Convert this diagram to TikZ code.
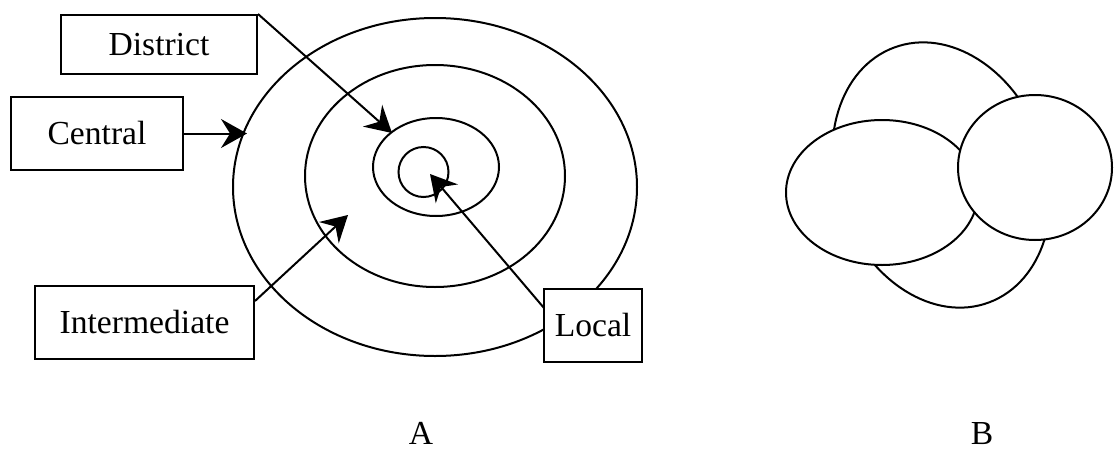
\documentclass[tikz,border=0pt]{standalone}
\usepackage{fontspec}
\setmainfont{Liberation Serif}
\usetikzlibrary{arrows.meta,calc}
\begin{document}
\begin{tikzpicture}[x=0.5pt,y=-0.5pt, line width=1pt,
  lbl/.style={font=\fontsize{16.8pt}{20pt}\selectfont},
  box/.style={draw, fill=white, inner sep=0pt, lbl},
  arr/.style={-{Stealth[length=13pt,width=14.5pt,inset=4.5pt]}}]
\useasboundingbox (0,0) rectangle (1114,450);
% --- A: concentric rings
\draw (435,187) ellipse [x radius=101pt, y radius=84.5pt];
\draw (435,176) ellipse [x radius=65pt, y radius=55.5pt];
\draw (436,167) ellipse [x radius=31.5pt, y radius=24.5pt];
\draw (423.5,172) circle [radius=12.5pt];
% arrow tips
\coordinate (tD) at (392,133);
\coordinate (tC) at (247,133.5);
\coordinate (tI) at (348,215);
\coordinate (tL) at (430,174);
% boxes
\node[box, minimum width=98pt, minimum height=29.5pt] (district) at (159,44.5) {District};
\node[box, minimum width=86pt, minimum height=36.5pt] (central) at (97,133.5) {Central};
\node[box, minimum width=109.5pt, minimum height=36.5pt] (inter) at (144.5,322.5) {Intermediate};
% arrows
\draw[arr] (district.north east) -- (tD);
\draw[arr] (central.east) -- (tC);
\draw[arr] ([yshift=10.75pt]inter.east) -- (tI);
\draw[arr] ($(593,325.5)+(-49,-17.5)$) coordinate (lstart) -- (tL);
\node[box, minimum width=49pt, minimum height=36.5pt] (local) at (593,325.5) {Local};
% --- B: overlapping ellipses
\draw[fill=white, rotate around={20.4:(941.5,175)}] (941.5,175) ellipse [x radius=52.5pt, y radius=68pt];
\draw[fill=white] (882,192.5) ellipse [x radius=48pt, y radius=36.25pt];
\draw[fill=white] (1035,167.5) ellipse [x radius=38.5pt, y radius=36.25pt];
% labels
\node[lbl, anchor=base] (labA) at (421,444) {A};
\node[lbl, anchor=base] (labB) at (982,444) {B};
\end{tikzpicture}
\end{document}
